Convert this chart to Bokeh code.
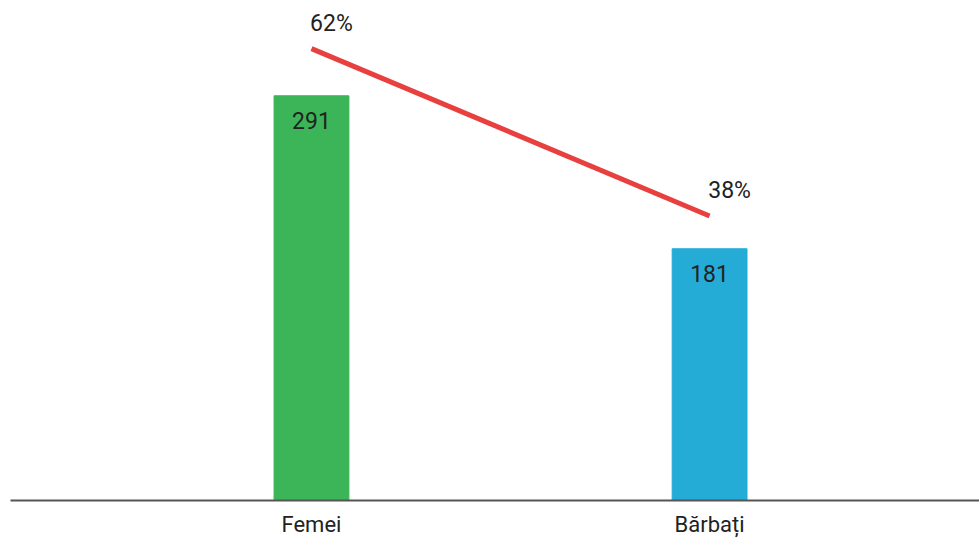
from bokeh.plotting import figure
from bokeh.models import ColumnDataSource, Range1d, FixedTicker, LabelSet
from bokeh.embed import file_html
from bokeh.resources import INLINE
from bokeh.core.properties import value

categories = ["Femei", "Bărbați"]
counts = [291, 181]
shares = [62, 38]
share_labels = ["62%", "38%"]
bar_colors = ["#3bb558", "#25acd6"]

xs = list(range(len(categories)))
src = ColumnDataSource(dict(x=xs, count=counts, share=shares,
                            clabel=[str(c) for c in counts],
                            slabel=share_labels, color=bar_colors))

FONT = "Roboto"

p = figure(width=979, height=539, output_backend="svg", toolbar_location=None,
           x_range=Range1d(-0.756, 1.678), y_range=Range1d(0, 359.5),
           min_border_left=10, min_border_right=0, min_border_top=0, min_border_bottom=0)
p.extra_y_ranges = {"pct": Range1d(-2.8, 68.9)}

p.vbar(x="x", top="count", width=0.188, color="color", source=src)
p.line(x="x", y="share", y_range_name="pct", line_color="#e8403f", line_width=5, source=src)

p.add_layout(LabelSet(x="x", y="count", text="clabel", source=src, text_align="center",
                      text_baseline="middle", y_offset=-25, text_font=value(FONT),
                      text_font_size="23px", text_color="#222222"))
p.add_layout(LabelSet(x="x", y="share", text="slabel", source=src, y_range_name="pct",
                      text_align="center", text_baseline="middle", x_offset=20, y_offset=25,
                      text_font=value(FONT), text_font_size="23px", text_color="#222222"))

p.yaxis.visible = False
p.xgrid.visible = False
p.ygrid.visible = False
p.outline_line_color = None

ax = p.xaxis[0]
ax.ticker = FixedTicker(ticks=xs)
ax.major_label_overrides = {i: c for i, c in enumerate(categories)}
ax.major_tick_line_color = None
ax.minor_tick_line_color = None
ax.major_tick_out = 0
ax.major_tick_in = 0
ax.axis_line_color = "#555555"
ax.axis_line_width = 2
ax.major_label_text_font = FONT
ax.major_label_text_font_size = "22px"
ax.major_label_text_color = "#222222"
ax.major_label_standoff = 11

open("out.html", "w").write(file_html(p, INLINE))
